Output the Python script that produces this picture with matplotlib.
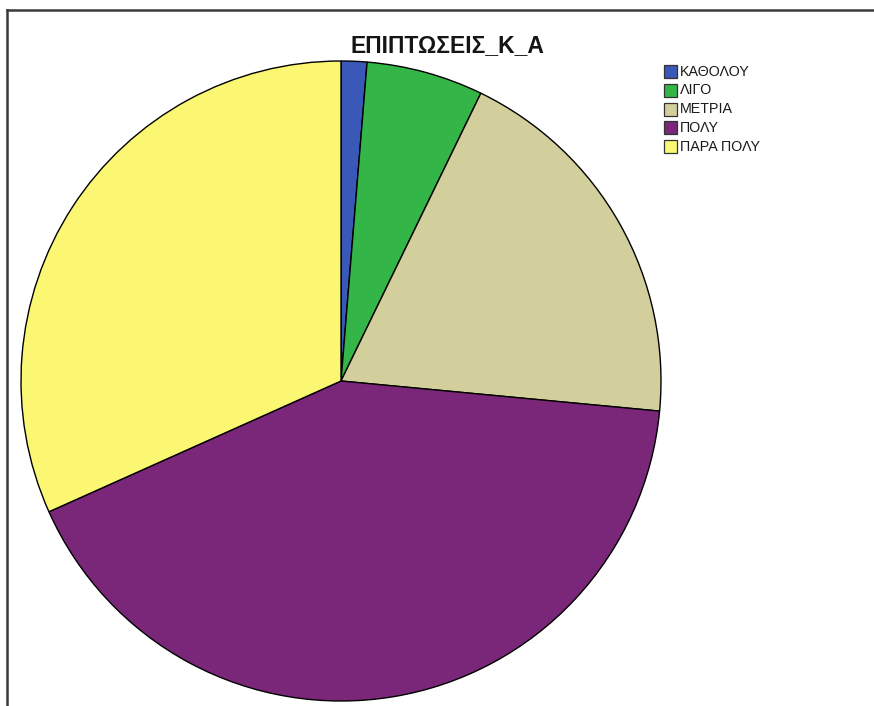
"""Pie chart of ΕΠΙΠΤΩΣΕΙΣ_Κ_Α answers, SPSS-style output."""

import matplotlib

matplotlib.use("Agg")
import matplotlib.pyplot as plt
from matplotlib.lines import Line2D
from matplotlib.patches import Rectangle

plt.rcParams["font.family"] = ["Liberation Sans", "DejaVu Sans"]

# Share of answers per category (percent)
labels = ["ΚΑΘΟΛΟΥ", "ΛΙΓΟ", "ΜΕΤΡΙΑ", "ΠΟΛΥ", "ΠΑΡΑ ΠΟΛΥ"]
percents = [1.3, 5.9, 19.3, 41.8, 31.7]
colors = ["#3A58B8", "#33B548", "#D3CF9C", "#7B2779", "#FBF772"]
title = "ΕΠΙΠΤΩΣΕΙΣ_Κ_Α"

W, H = 874, 706
fig = plt.figure(figsize=(W / 100, H / 100), dpi=100)

# Pie axes: centre at (341, 381) px, radius 320 px
cx, cy, r = 341, 381, 320
ax = fig.add_axes([(cx - r) / W, (H - cy - r) / H, 2 * r / W, 2 * r / H])
ax.pie(
    percents,
    colors=colors,
    startangle=90,
    counterclock=False,
    radius=1.0,
    wedgeprops=dict(edgecolor="black", linewidth=1.0),
)
ax.set_xlim(-1, 1)
ax.set_ylim(-1, 1)
ax.set_aspect("equal")
ax.set_axis_off()

fig.text(447 / W, 1 - 45.5 / H, title, ha="center", va="center",
         fontsize=16.5, fontweight="bold", color="#151515")

# Legend drawn by hand, top-right
x0, y0, step, size = 664, 71.5, 18.8, 13
for i, (lab, col) in enumerate(zip(labels, colors)):
    yc = y0 + i * step
    fig.patches.append(
        Rectangle(
            (x0 / W, 1 - (yc + size / 2) / H),
            size / W,
            size / H,
            transform=fig.transFigure,
            facecolor=col,
            edgecolor="#333333",
            linewidth=0.9,
        )
    )
    fig.text((x0 + size + 3) / W, 1 - yc / H, lab, ha="left", va="center", fontsize=10.3, color="#1a1a1a")

# Frame lines on the left and top edges
fig.add_artist(Line2D([7 / W, 7 / W], [0, 1 - 10 / H], transform=fig.transFigure, color="#3a3a3a", linewidth=1.8))
fig.add_artist(Line2D([7 / W, 1], [1 - 10 / H, 1 - 10 / H], transform=fig.transFigure, color="#3a3a3a", linewidth=1.8))

fig.savefig("out.png", dpi=100)
plt.close(fig)
